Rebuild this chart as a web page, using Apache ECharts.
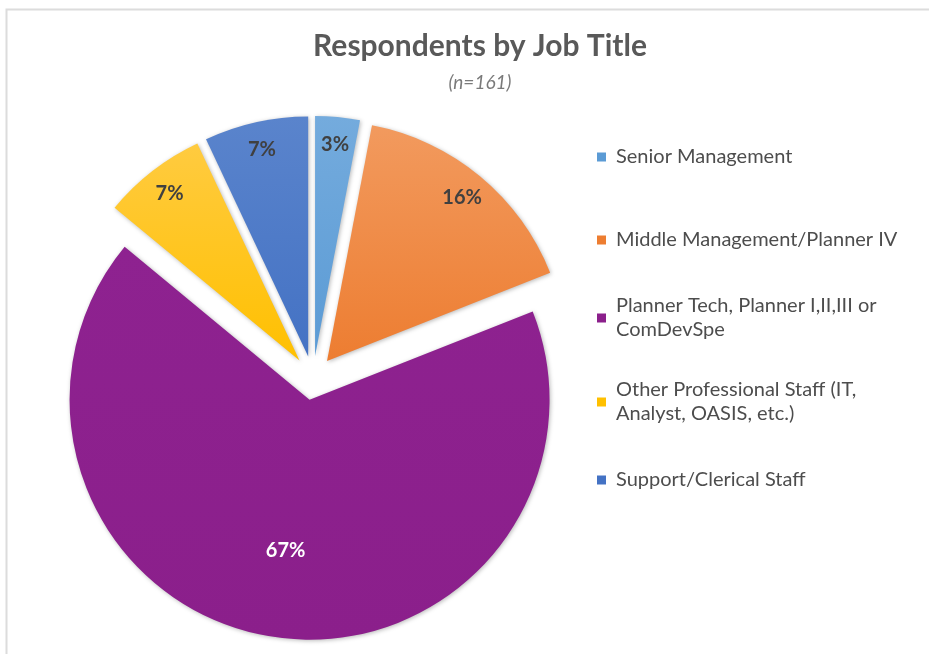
<!DOCTYPE html>
<html>
<head>
<meta charset="utf-8">
<script src="https://cdn.jsdelivr.net/npm/echarts@6/dist/echarts.min.js"></script>
<style>
html,body{margin:0;padding:0;background:#fff;}
#chart{width:929px;height:654px;}
</style>
</head>
<body>
<div id="chart"></div>
<script>
// ---- data ----
var categories = ['Senior Management', 'Middle Management/Planner IV', 'Planner Tech, Planner I,II,III or ComDevSpe', 'Other Professional Staff (IT, Analyst, OASIS, etc.)', 'Support/Clerical Staff'];
var legendLabels = ['Senior Management', 'Middle Management/Planner IV', 'Planner Tech, Planner I,II,III or\nComDevSpe', 'Other Professional Staff (IT,\nAnalyst, OASIS, etc.)', 'Support/Clerical Staff'];
var percents = [3, 16, 67, 7, 7];
var titleText = 'Respondents by Job Title';
var subText = '(n=161)';

// ---- style ----
var baseColors = ['#5B9BD5', '#ED7D31', '#8B1F8B', '#FFC000', '#4472C4'];
var topColors  = ['#74abdd', '#f29a5e', '#8e2290', '#ffcb40', '#5a84cc'];
var labelColors = ['#404040', '#404040', '#ffffff', '#404040', '#404040'];
var legendTops = [145, 228, 282, 366, 468];
var FONT = 'Lato';
var CENTER = [313, 378];
var R = 240;
var OFFSET = 22;

var chart = echarts.init(document.getElementById('chart'), null, {renderer: 'canvas'});

function grad(i) {
  return new echarts.graphic.LinearGradient(0, 0, 0, 1, [
    {offset: 0, color: topColors[i]},
    {offset: 1, color: baseColors[i]}
  ]);
}

var mainData = categories.map(function (c, i) {
  return {
    name: c, value: percents[i], selected: true,
    itemStyle: {color: grad(i)}
  };
});

function overlayData(showFn) {
  return categories.map(function (c, i) {
    return {
      name: c, value: percents[i], selected: true,
      label: {show: showFn(i), color: labelColors[i]}
    };
  });
}

var overlayCommon = {
  type: 'pie',
  center: CENTER,
  startAngle: 90,
  clockwise: true,
  selectedMode: 'multiple',
  selectedOffset: OFFSET,
  silent: true,
  percentPrecision: 0,
  avoidLabelOverlap: false,
  itemStyle: {color: 'rgba(0,0,0,0)', borderWidth: 0},
  emphasis: {disabled: true},
  labelLine: {show: false},
  label: {
    position: 'inside',
    formatter: '{d}%',
    fontFamily: FONT,
    fontWeight: 'bold',
    fontSize: 20
  }
};

var legends = categories.map(function (c, i) {
  var twoLine = legendLabels[i].indexOf('\n') >= 0;
  return {
    orient: 'vertical',
    left: 597,
    top: legendTops[i],
    padding: 0,
    icon: 'rect',
    itemWidth: 9,
    itemHeight: 9,
    selectedMode: false,
    data: [{name: c, itemStyle: {color: baseColors[i]}}],
    formatter: function () { return legendLabels[i]; },
    textStyle: {
      fontFamily: FONT,
      fontSize: 20,
      color: '#4d4d4d',
      lineHeight: 24,
      padding: twoLine ? [24, 0, 0, 5] : [0, 0, 0, 5]
    }
  };
});

var option = {
  backgroundColor: '#ffffff',
  animation: false,
  title: {
    text: titleText,
    subtext: subText,
    left: 475,
    top: 26,
    textAlign: 'center',
    itemGap: 12,
    textStyle: {fontFamily: FONT, fontWeight: 'bold', fontSize: 30, color: '#595959'},
    subtextStyle: {fontFamily: FONT, fontStyle: 'italic', fontSize: 19, color: '#7a7a7a'}
  },
  legend: legends,
  graphic: [{
    type: 'rect',
    shape: {x: 6.5, y: 9.5, width: 940, height: 700},
    style: {fill: 'none', stroke: '#dcdcdc', lineWidth: 2},
    silent: true,
    z: -10
  }],
  series: [
    {
      type: 'pie',
      center: CENTER,
      radius: [0, R],
      startAngle: 90,
      clockwise: true,
      selectedMode: 'multiple',
      selectedOffset: OFFSET,
      percentPrecision: 0,
      avoidLabelOverlap: false,
      label: {show: false},
      labelLine: {show: false},
      emphasis: {disabled: true},
      itemStyle: {
        borderWidth: 0,
        shadowColor: 'rgba(0,0,0,0.28)',
        shadowBlur: 4,
        shadowOffsetX: 1,
        shadowOffsetY: 1
      },
      data: mainData
    },
    Object.assign({}, overlayCommon, {
      radius: [178, R],
      data: overlayData(function (i) { return i !== 2; })
    }),
    Object.assign({}, overlayCommon, {
      radius: [60, R],
      data: overlayData(function (i) { return i === 2; })
    })
  ]
};

chart.setOption(option);
</script>
</body>
</html>
